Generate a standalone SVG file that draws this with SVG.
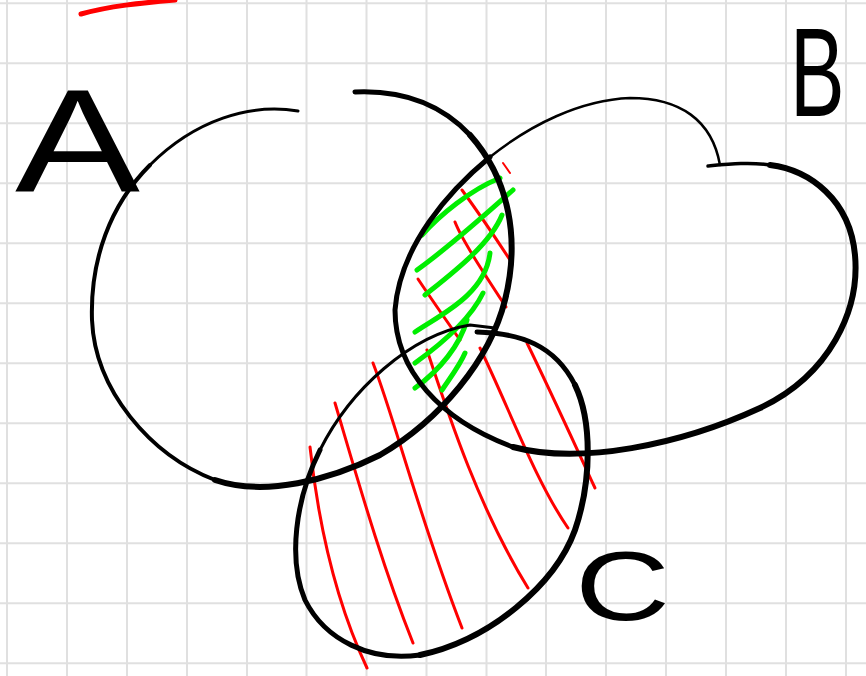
<svg xmlns="http://www.w3.org/2000/svg" width="866" height="676" viewBox="0 0 866 676">
<style>
.grid line{stroke:#e0e0e0;stroke-width:2}
.ink{fill:none;stroke:#000;stroke-linecap:round;stroke-linejoin:round}
.red{fill:none;stroke:#ff0000;stroke-width:3;stroke-linecap:round}
.green{fill:none;stroke:#00ee00;stroke-width:5;stroke-linecap:round}
.lbl{font-family:"Liberation Sans",Arial,sans-serif;fill:#000}
</style>
<rect width="866" height="676" fill="#fff"/>
<g class="grid">
<line x1="7" y1="0" x2="7" y2="676"/><line x1="67" y1="0" x2="67" y2="676"/><line x1="127" y1="0" x2="127" y2="676"/><line x1="187" y1="0" x2="187" y2="676"/><line x1="247" y1="0" x2="247" y2="676"/><line x1="306.5" y1="0" x2="306.5" y2="676"/><line x1="366.5" y1="0" x2="366.5" y2="676"/><line x1="426.5" y1="0" x2="426.5" y2="676"/><line x1="486.5" y1="0" x2="486.5" y2="676"/><line x1="546" y1="0" x2="546" y2="676"/><line x1="606" y1="0" x2="606" y2="676"/><line x1="666" y1="0" x2="666" y2="676"/><line x1="726" y1="0" x2="726" y2="676"/><line x1="786" y1="0" x2="786" y2="676"/><line x1="846" y1="0" x2="846" y2="676"/>
<line x1="0" y1="3.3" x2="866" y2="3.3"/><line x1="0" y1="63.3" x2="866" y2="63.3"/><line x1="0" y1="123.3" x2="866" y2="123.3"/><line x1="0" y1="183.3" x2="866" y2="183.3"/><line x1="0" y1="243.3" x2="866" y2="243.3"/><line x1="0" y1="303.3" x2="866" y2="303.3"/><line x1="0" y1="363.3" x2="866" y2="363.3"/><line x1="0" y1="423.3" x2="866" y2="423.3"/><line x1="0" y1="483.3" x2="866" y2="483.3"/><line x1="0" y1="543.3" x2="866" y2="543.3"/><line x1="0" y1="603.3" x2="866" y2="603.3"/><line x1="0" y1="663.3" x2="866" y2="663.3"/>
</g>
<path class="red" style="stroke-width:5" d="M81,14 C110,6 140,3 175,0"/>
<g id="hatch-red">
<path class="red" d="M310,447 C318,520 335,600 367,668"/>
<path class="red" d="M335,403 C355,470 380,560 413,643"/>
<path class="red" d="M373,363 C395,420 420,520 462,628"/>
<path class="red" d="M427,350 C450,420 480,510 528,588"/>
<path class="red" d="M480,348 C510,410 535,480 568,528"/>
<path class="red" d="M527,343 C550,390 575,445 595,488"/>
<path class="red" d="M462,190 C478,212 495,237 510,260"/>
<path class="red" d="M455,222 C462,240 485,275 506,307"/>
<path class="red" d="M418,279 C432,300 446,320 460,340"/>
<path class="red" style="stroke-width:2" d="M503,163 L510,173"/>
</g>
<g id="hatch-green">
<path class="green" d="M422,235 C440,215 470,190 500,178"/>
<path class="green" d="M417,270 C445,250 485,215 513,190"/>
<path class="green" d="M425,295 C450,275 490,245 502,215"/>
<path class="green" d="M415,332 C440,315 485,295 490,253"/>
<path class="green" d="M415,363 C440,345 470,320 483,293"/>
<path class="green" d="M415,388 C440,370 460,345 467,320"/>
<path class="green" d="M442,390 C450,378 460,365 465,353"/>
</g>
<g id="setA">
<path class="ink" style="stroke-width:3" d="M298,111 C250,103 195,120 150,165"/>
<path class="ink" style="stroke-width:4" d="M150,165 C110,205 90,260 92,320 C95,390 150,455 215,480"/>
<path class="ink" style="stroke-width:6" d="M215,480 C265,497 330,480 380,455 C440,420 490,360 505,300 C520,240 510,180 470,135"/>
<path class="ink" style="stroke-width:5" d="M470,135 C440,103 400,90 355,92"/>
</g>
<g id="setB">
<path class="ink" style="stroke-width:2.5" d="M720,165 C712,120 680,98 630,98 C580,100 530,125 490,157"/>
<path class="ink" style="stroke-width:5" d="M490,157 C450,190 400,245 395,310 C395,370 440,420 513,447"/>
<path class="ink" style="stroke-width:6" d="M513,447 C580,465 680,445 760,408 C830,375 860,310 855,255 C850,200 810,170 770,165"/>
<path class="ink" style="stroke-width:3.5" d="M770,165 C750,162 730,164 708,166"/>
</g>
<g id="setC">
<path class="ink" style="stroke-width:5" d="M477,332 C520,333 555,345 575,385"/>
<path class="ink" style="stroke-width:6" d="M575,385 C592,420 592,480 575,530 C555,585 490,640 420,655"/>
<path class="ink" style="stroke-width:5" d="M420,655 C370,662 325,640 305,600 C288,560 295,500 320,450"/>
<path class="ink" style="stroke-width:3" d="M320,450 C350,390 410,335 470,325 L495,328"/>
</g>
<g id="labels">
<text class="lbl" x="15" y="192" font-size="147" textLength="125" lengthAdjust="spacingAndGlyphs">A</text>
<text class="lbl" transform="translate(790,116) scale(0.65,1)" font-size="126">B</text>
<text class="lbl" x="575" y="620" font-size="98" textLength="95" lengthAdjust="spacingAndGlyphs">C</text>
</g>
<g id="connectors"/>
</svg>
